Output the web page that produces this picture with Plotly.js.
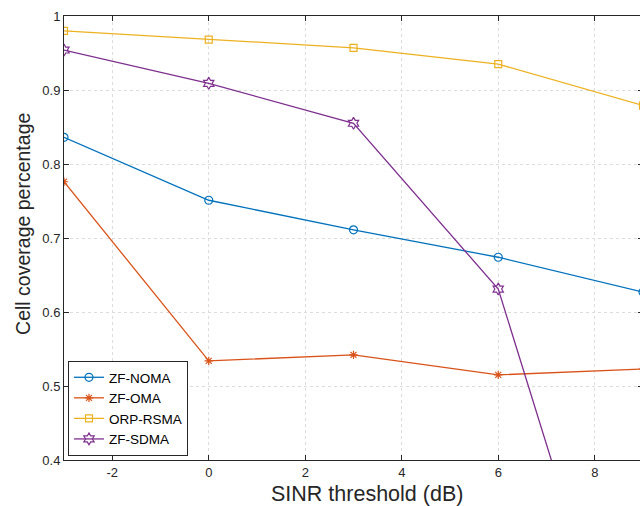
<!DOCTYPE html>
<html>
<head>
<meta charset="utf-8">
<script src="https://cdn.plot.ly/plotly-3.0.1.min.js"></script>
<style>
html,body{margin:0;padding:0;overflow:hidden;background:#fff;width:640px;height:506px;}
#chart{width:644px;height:506px;}
</style>
</head>
<body>
<div id="chart"></div>
<script>
const sinr = [-3, 0, 3, 6, 9];
const zfNoma = [0.836, 0.751, 0.711, 0.674, 0.627];
const zfOma = [0.776, 0.534, 0.542, 0.515, 0.523];
const orpRsma = [0.980, 0.968, 0.957, 0.935, 0.879];
const zfSdma = [0.954, 0.909, 0.855, 0.631, 0.001];
const seriesNames = ['ZF-NOMA', 'ZF-OMA', 'ORP-RSMA', 'ZF-SDMA'];
const xTicks = [-2, 0, 2, 4, 6, 8];
const yTicks = [0.4, 0.5, 0.6, 0.7, 0.8, 0.9, 1];
const yTickText = ['0.4', '0.5', '0.6', '0.7', '0.8', '0.9', '1'];
const xTitle = 'SINR threshold (dB)';
const yTitle = 'Cell coverage percentage';

const colors = ['#0072BD', '#D95319', '#EDB120', '#7E2F8E'];
const symbols = ['circle-open', 'asterisk-open', 'square-open', 'hexagram-open'];
const sizes = [8, 7, 7, 9];
const ys = [zfNoma, zfOma, orpRsma, zfSdma];
const FONT = 'Liberation Sans, Arial, sans-serif';

const traces = ys.map((y, i) => ({
  x: sinr, y: y, name: seriesNames[i], type: 'scatter', mode: 'lines+markers',
  line: {color: colors[i], width: 1.3},
  marker: {symbol: symbols[i], size: sizes[i], color: colors[i], line: {color: colors[i], width: 1.2}}
}));

const axisCommon = {
  showline: true, linecolor: '#262626', linewidth: 1, mirror: 'ticks',
  ticks: 'inside', ticklen: 5, tickcolor: '#262626', tickwidth: 1,
  showgrid: true, gridcolor: '#dcdcdc', griddash: 'dot', gridwidth: 1,
  zeroline: false,
  tickfont: {family: FONT, size: 13, color: '#262626'}
};

const layout = {
  width: 644, height: 506,
  margin: {l: 64, r: 1, t: 16, b: 46},
  paper_bgcolor: '#fff', plot_bgcolor: '#fff',
  showlegend: true,
  xaxis: Object.assign({}, axisCommon, {
    range: [-3, 9], tickvals: xTicks, ticktext: xTicks.map(String)
  }),
  yaxis: Object.assign({}, axisCommon, {
    range: [0.4, 1], tickvals: yTicks, ticktext: yTickText
  }),
  annotations: [
    {text: xTitle, xref: 'paper', yref: 'paper', x: 0.523, y: -0.0766,
     xanchor: 'center', yanchor: 'middle', showarrow: false,
     font: {family: FONT, size: 21.5, color: '#262626'}},
    {text: yTitle, xref: 'paper', yref: 'paper', x: -0.071, y: 0.5315,
     xanchor: 'center', yanchor: 'middle', showarrow: false, textangle: -90,
     font: {family: FONT, size: 19.5, color: '#262626'}}
  ],
  legend: {
    x: 0.0069, y: 0.009, xanchor: 'left', yanchor: 'bottom',
    bgcolor: '#fff', bordercolor: '#262626', borderwidth: 1,
    font: {family: FONT, size: 13.5, color: '#000'},
    tracegroupgap: 0, itemwidth: 30
  }
};

Plotly.newPlot('chart', traces, layout, {displayModeBar: false, staticPlot: true});
</script>
</body>
</html>
